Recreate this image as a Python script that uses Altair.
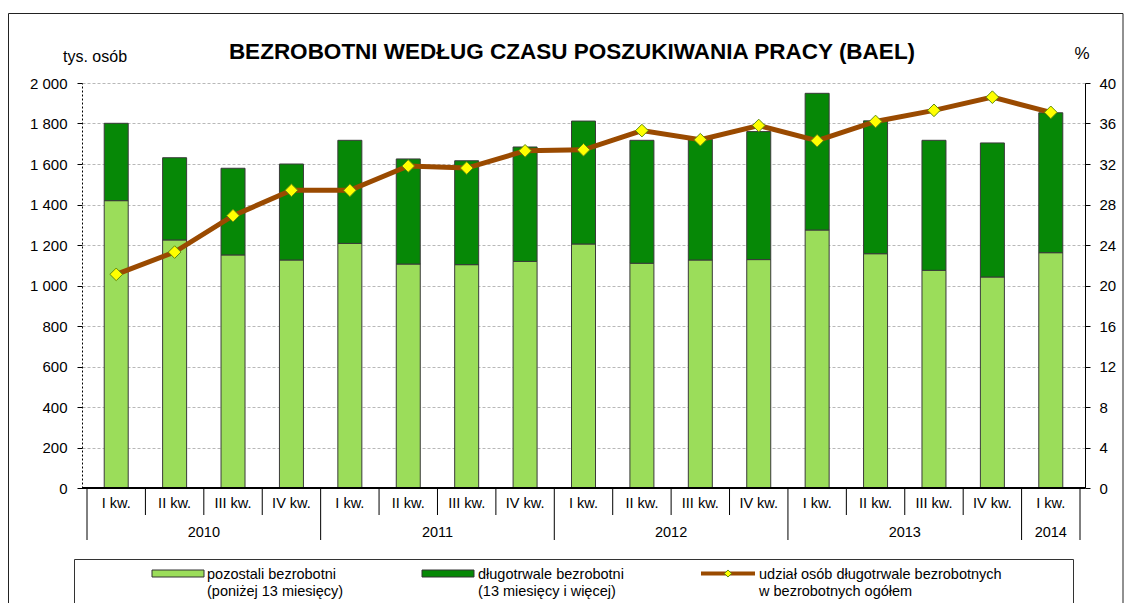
import altair as alt
import pandas as pd

# ---- data ----
kwartaly = ["I kw.", "II kw.", "III kw.", "IV kw.",
            "I kw.", "II kw.", "III kw.", "IV kw.",
            "I kw.", "II kw.", "III kw.", "IV kw.",
            "I kw.", "II kw.", "III kw.", "IV kw.",
            "I kw."]
lata = ["2010", "2011", "2012", "2013", "2014"]
kwartaly_w_roku = [4, 4, 4, 4, 1]
pozostali = [1419, 1225, 1151, 1126, 1208, 1106, 1103, 1119, 1205,
             1110, 1126, 1128, 1274, 1157, 1075, 1042, 1162]
dlugotrwale = [382, 406, 428, 474, 509, 519, 513, 565, 607,
               607, 596, 632, 675, 656, 642, 662, 691]
udzial = [21.1, 23.3, 26.9, 29.4, 29.4, 31.8, 31.6, 33.3, 33.4,
          35.3, 34.4, 35.8, 34.3, 36.2, 37.3, 38.6, 37.1]

tytul = "BEZROBOTNI WEDŁUG CZASU POSZUKIWANIA PRACY (BAEL)"
jednostka_l = "tys. osób"
jednostka_p = "%"
legenda = [["pozostali bezrobotni", "(poniżej 13 miesięcy)"],
           ["długotrwale bezrobotni", "(13 miesięcy i więcej)"],
           ["udział osób długotrwale bezrobotnych", "w bezrobotnych ogółem"]]

C_LIGHT = "#9BDD5A"
C_DARK = "#068806"
C_LINE = "#9A4A00"
C_MARK = "#FFFF00"
FONT = "Liberation Sans"

n = len(kwartaly)
W, H = 1003, 405

df = pd.DataFrame({
    "pos": [i + 0.5 for i in range(n)],
    "kw": kwartaly,
    "pozostali": pozostali,
    "dlugotrwale": dlugotrwale,
    "udzial": udzial,
})
df["ogolem"] = df["pozostali"] + df["dlugotrwale"]

granice_lat = [0]
for k in kwartaly_w_roku:
    granice_lat.append(granice_lat[-1] + k)
df_years = pd.DataFrame({
    "rok": lata,
    "srodek": [(granice_lat[i] + granice_lat[i + 1]) / 2 for i in range(len(lata))],
})
df_long = pd.DataFrame({"b": granice_lat})
df_short = pd.DataFrame({"b": [b for b in range(n + 1) if b not in granice_lat]})

xs = alt.Scale(domain=[0, n], nice=False, zero=False)
ys_l = alt.Scale(domain=[0, 2000], nice=False)
ys_r = alt.Scale(domain=[0, 40], nice=False)

axis_l = alt.Axis(values=list(range(0, 2001, 200)),
                  labelExpr="replace(format(datum.value, ',d'), ',', ' ')",
                  title=None, grid=True, gridDash=[3, 2], gridColor="#b8b8b8",
                  domainDash=[2, 2], domainColor="black", tickColor="black",
                  tickSize=5, labelPadding=10, labelFontSize=15, labelFont=FONT,
                  labelColor="black")
axis_r = alt.Axis(orient="right", values=list(range(0, 41, 4)), title=None,
                  grid=False, domainColor="black", tickColor="black",
                  tickSize=5, labelPadding=9, labelFontSize=15, labelFont=FONT,
                  labelColor="black")

base = alt.Chart(df)
X = alt.X("pos:Q", scale=xs, axis=None)

low = base.mark_bar(size=24, color=C_LIGHT, stroke="#3a3a3a", strokeWidth=1).encode(
    x=X, y=alt.Y("pozostali:Q", scale=ys_l, axis=axis_l))
up = base.mark_bar(size=24, color=C_DARK, stroke="#3a3a3a", strokeWidth=1).encode(
    x=X, y=alt.Y("pozostali:Q", scale=ys_l), y2="ogolem:Q")
bars = alt.layer(low, up)

line = base.mark_line(color=C_LINE, strokeWidth=5).encode(
    x=X, y=alt.Y("udzial:Q", scale=ys_r, axis=axis_r))
pts = base.mark_point(shape="diamond", filled=True, fill=C_MARK, stroke="#5E8A10",
                      strokeWidth=1, size=160, opacity=1).encode(
    x=X, y=alt.Y("udzial:Q", scale=ys_r))
lines = alt.layer(line, pts)

# category axis below the plot
bottom = base.mark_rule(color="black", strokeWidth=1).encode(
    x=alt.value(0), x2=alt.value(W), y=alt.value(H))
kw_txt = base.mark_text(font=FONT, fontSize=14.5, color="black", baseline="middle").encode(
    x=X, y=alt.value(H + 16), text="kw:N")
yr_txt = alt.Chart(df_years).mark_text(font=FONT, fontSize=14.5, color="black",
                                       baseline="middle").encode(
    x=alt.X("srodek:Q", scale=xs, axis=None), y=alt.value(H + 45), text="rok:N")
sep_s = alt.Chart(df_short).mark_rule(color="black", strokeWidth=1).encode(
    x=alt.X("b:Q", scale=xs, axis=None), y=alt.value(H), y2=alt.value(H + 27))
sep_l = alt.Chart(df_long).mark_rule(color="black", strokeWidth=1).encode(
    x=alt.X("b:Q", scale=xs, axis=None), y=alt.value(H), y2=alt.value(H + 52))

# titles
one = pd.DataFrame({"t": [tytul]})
title = alt.Chart(one).mark_text(font=FONT, fontSize=22.5, fontWeight="bold",
                                 color="black", baseline="middle", align="center").encode(
    x=alt.value(490), y=alt.value(-31), text="t:N")
u_l = alt.Chart(pd.DataFrame({"t": [jednostka_l]})).mark_text(
    font=FONT, fontSize=16, color="black", baseline="middle", align="left").encode(
    x=alt.value(-19), y=alt.value(-26), text="t:N")
u_r = alt.Chart(pd.DataFrame({"t": [jednostka_p]})).mark_text(
    font=FONT, fontSize=17, color="black", baseline="middle", align="center").encode(
    x=alt.value(1000), y=alt.value(-29), text="t:N")

# frame
frame = alt.Chart(one).mark_rect(fill=None, stroke="#222", strokeWidth=1).encode(
    x=alt.value(-73.5), x2=alt.value(1041), y=alt.value(-69.5), y2=alt.value(650))

# legend
leg_box = alt.Chart(one).mark_rect(fill="white", stroke="#333", strokeWidth=1).encode(
    x=alt.value(-7.5), x2=alt.value(991.5), y=alt.value(476.5), y2=alt.value(620))
sw1 = alt.Chart(one).mark_rect(fill=C_LIGHT, stroke="#333", strokeWidth=1).encode(
    x=alt.value(70), x2=alt.value(122), y=alt.value(487), y2=alt.value(494))
sw2 = alt.Chart(one).mark_rect(fill=C_DARK, stroke="#333", strokeWidth=1).encode(
    x=alt.value(340), x2=alt.value(392), y=alt.value(487), y2=alt.value(494))
sw3 = alt.Chart(one).mark_rule(color=C_LINE, strokeWidth=4).encode(
    x=alt.value(619), x2=alt.value(673), y=alt.value(490.5))
sw3p = alt.Chart(one).mark_point(shape="diamond", filled=True, fill=C_MARK,
                                 stroke="#5E8A10", strokeWidth=1, size=50, opacity=1).encode(
    x=alt.value(646), y=alt.value(490.5))

leg_txt = []
for xpos, (l1, l2) in zip([125, 396, 677], legenda):
    for ypos, t in [(491.5, l1), (508.5, l2)]:
        leg_txt.append(alt.Chart(pd.DataFrame({"t": [t]})).mark_text(
            font=FONT, fontSize=14.5, color="black", baseline="middle", align="left").encode(
            x=alt.value(xpos), y=alt.value(ypos), text="t:N"))

chart = alt.layer(
    frame, bars, lines, bottom, kw_txt, yr_txt, sep_s, sep_l,
    title, u_l, u_r, leg_box, sw1, sw2, sw3, sw3p, *leg_txt
).resolve_scale(y="independent").properties(
    width=W, height=H,
    autosize=alt.AutoSizeParams(type="none"),
    padding={"left": 74, "top": 75, "right": 39, "bottom": 115},
).configure_view(stroke=None)

chart.save("out.html", embed_options={"renderer": "svg", "actions": False})
